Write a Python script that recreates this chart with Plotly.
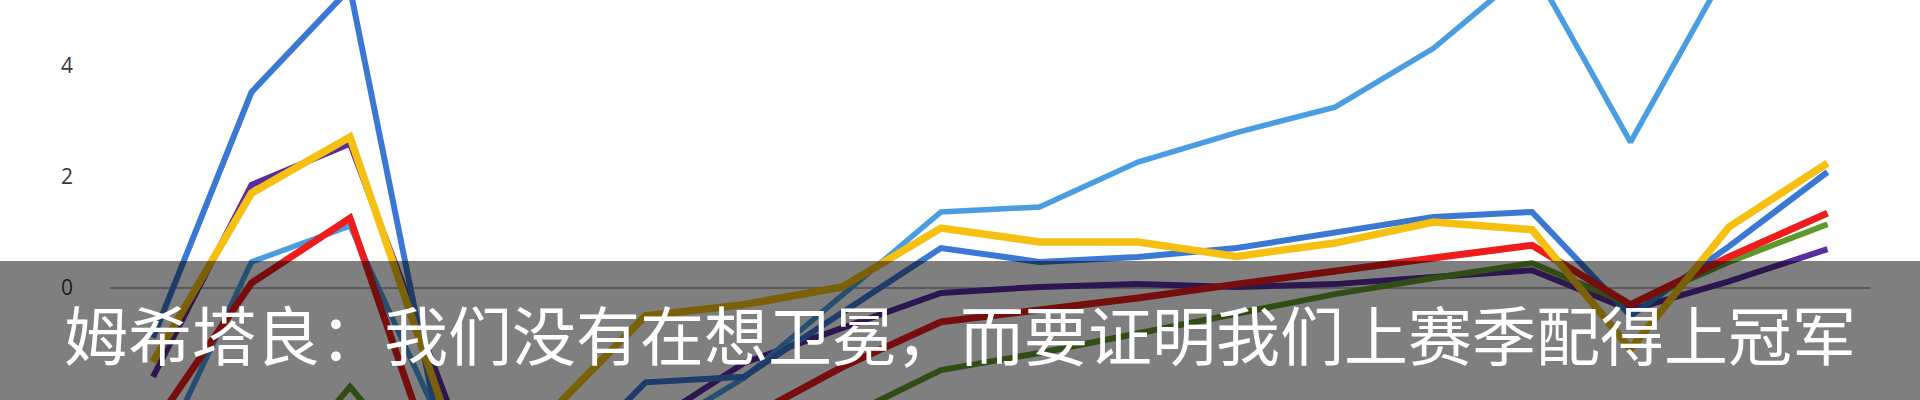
import plotly.graph_objects as go

# ---- data ----
rounds = list(range(1, 19))

blue_vals = [-0.9, 3.53, 5.4, -3.4, -3.5, -1.7, -1.6, -0.43, 0.72, 0.47, 0.56, 0.72,
             0.99, 1.28, 1.37, -0.5, 0.75, 2.09]
lightblue_vals = [-3.3, 0.47, 1.12, -2.75, -3.0, -2.7, -1.62, -0.13, 1.37, 1.46, 2.27, 2.80,
                  3.26, 4.32, 5.8, 2.63, 5.8, 6.4]
yellow_vals = [-1.33, 1.71, 2.72, -2.45, -2.3, -0.5, -0.3, 0.02, 1.08, 0.83, 0.83, 0.57,
               0.81, 1.19, 1.05, -1.1, 1.1, 2.25]
purple_vals = [-1.6, 1.86, 2.6, -2.1, -2.9, -2.5, -1.35, -0.72, -0.09, 0.02, 0.07, 0.02,
               0.07, 0.2, 0.32, -0.4, 0.12, 0.70]
red_vals = [-2.5, 0.09, 1.26, -3.9, -3.5, -3.0, -2.38, -1.42, -0.61, -0.4, -0.18, 0.07,
            0.29, 0.54, 0.77, -0.3, 0.56, 1.35]
green_vals = [-3.6, -3.9, -1.78, -3.9, -3.5, -3.2, -2.9, -2.35, -1.48, -1.17, -0.82, -0.45,
              -0.11, 0.18, 0.45, -0.3, 0.47, 1.15]

y_ticks = [-2, 0, 2, 4]
caption = "姆希塔良：我们没有在想卫冕，而要证明我们上赛季配得上冠军"

# ---- styling ----
W, H = 1920, 400
ML, MR = 110, 50
plot_w = W - ML - MR

traces = [
    (purple_vals, "#5b2c9f", 6),
    (lightblue_vals, "#4a9de0", 5.5),
    (blue_vals, "#3a78d4", 6),
    (green_vals, "#5e9a2a", 6),
    (red_vals, "#ee1c1c", 7),
    (yellow_vals, "#f5c010", 7.5),
]

fig = go.Figure()
for vals, color, width in traces:
    fig.add_trace(go.Scatter(
        x=rounds, y=vals, mode="lines",
        line=dict(color=color, width=width),
        showlegend=False, hoverinfo="skip",
    ))

px_per_x = 98.5
x_first_px = 153
x0 = rounds[0] - (x_first_px - ML) / px_per_x
x1 = x0 + plot_w / px_per_x

px_per_y = 55.5
zero_px = 288
y_top = zero_px / px_per_y
y_bot = -(H - zero_px) / px_per_y

fig.update_layout(
    width=W, height=H,
    margin=dict(l=ML, r=MR, t=0, b=0, autoexpand=False),
    paper_bgcolor="white", plot_bgcolor="white",
    xaxis=dict(range=[x0, x1], visible=False, showgrid=False, zeroline=False),
    yaxis=dict(
        range=[y_bot, y_top], tickvals=y_ticks, ticktext=[str(v) for v in y_ticks],
        showgrid=False, zeroline=True, zerolinecolor="#b4b4b4", zerolinewidth=1.5,
        showline=False, ticks="",
        tickfont=dict(family="Open Sans", size=21, color="#3a3a3a"),
        ticklabelstandoff=36,
    ),
    shapes=[
        dict(type="rect", xref="paper", yref="paper",
             x0=-ML / plot_w, x1=1 + MR / plot_w, y0=-0.02, y1=(H - 261) / H,
             fillcolor="rgba(0,0,0,0.5)", line=dict(width=0), layer="above"),
    ],
    annotations=[
        dict(text=caption, xref="paper", yref="paper",
             x=(960 - ML) / plot_w, y=(H - 332) / H,
             xanchor="center", yanchor="middle", showarrow=False,
             font=dict(family="Noto Sans CJK SC", size=64, color="white")),
    ],
)

fig.write_html("out.html",
               config={"displayModeBar": False, "staticPlot": True},
               post_script="document.body.style.margin='0';document.body.style.overflow='hidden';")
